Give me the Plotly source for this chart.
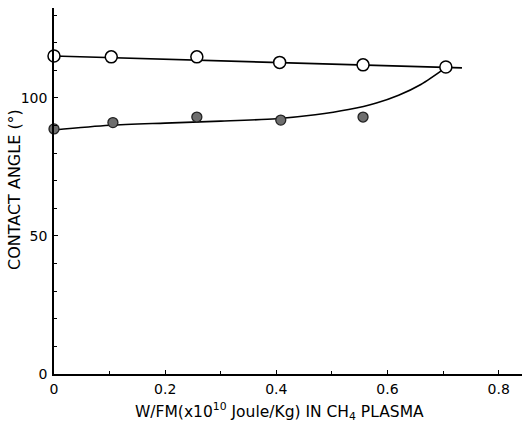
import plotly.graph_objects as go

# Measured data
x_open = [0.0, 0.103, 0.257, 0.406, 0.556, 0.705]
y_open = [115.2, 114.9, 114.9, 112.9, 112.0, 111.2]

x_fill = [0.0, 0.106, 0.257, 0.408, 0.556]
y_fill = [88.8, 91.1, 93.1, 92.0, 93.1]

# Fitted curves
fit_open_x = [0.0, 0.734]
fit_open_y = [115.2, 110.9]

fit_fill_x = [0.0, 0.1, 0.2, 0.3, 0.4, 0.47, 0.53, 0.58, 0.62, 0.66, 0.705]
fit_fill_y = [88.4, 90.1, 90.9, 91.6, 92.5, 93.9, 95.8, 98.2, 101.0, 104.9, 111.0]

x_ticks = [0, 0.2, 0.4, 0.6, 0.8]
x_tick_labels = ["0", "0.2", "0.4", "0.6", "0.8"]
y_ticks = [0, 50, 100]
y_tick_labels = ["0", "50", "100"]

FONT = "DejaVu Sans, Verdana, sans-serif"

fig = go.Figure()
fig.add_trace(go.Scatter(x=fit_open_x, y=fit_open_y, mode="lines",
                         line=dict(color="black", width=1.6), showlegend=False))
fig.add_trace(go.Scatter(x=fit_fill_x, y=fit_fill_y, mode="lines",
                         line=dict(color="black", width=1.6, shape="spline", smoothing=0.8),
                         showlegend=False))
fig.add_trace(go.Scatter(x=x_open, y=y_open, mode="markers",
                         marker=dict(size=12, color="white", line=dict(color="black", width=1.5)),
                         showlegend=False, cliponaxis=False))
fig.add_trace(go.Scatter(x=x_fill, y=y_fill, mode="markers",
                         marker=dict(size=10, color="#6e6e6e", line=dict(color="#222222", width=1.3)),
                         showlegend=False, cliponaxis=False))

fig.update_layout(
    width=522, height=425,
    margin=dict(l=54, r=0, t=8, b=51),
    paper_bgcolor="white", plot_bgcolor="white",
    font=dict(family=FONT, size=13, color="black"),
    xaxis=dict(range=[0, 0.842], tickvals=x_ticks, ticktext=x_tick_labels,
               showgrid=False, zeroline=False, showline=True, linecolor="black", linewidth=1.6,
               ticks="inside", ticklen=4, tickcolor="black", tickwidth=1,
               minor=dict(dtick=0.1, tick0=0, ticks="inside", ticklen=3, tickcolor="black", showgrid=False),
               tickfont=dict(size=14, family=FONT), ticklabelstandoff=1),
    yaxis=dict(range=[0, 132.6], tickvals=y_ticks, ticktext=y_tick_labels,
               showgrid=False, zeroline=False, showline=True, linecolor="black", linewidth=1.6,
               ticks="inside", ticklen=4, tickcolor="black", tickwidth=1,
               minor=dict(dtick=10, tick0=0, ticks="inside", ticklen=3, tickcolor="black", showgrid=False),
               tickfont=dict(size=14, family=FONT), ticklabelstandoff=2),
)

fig.add_annotation(text="W/FM(x10<sup>10</sup> Joule/Kg) IN CH<sub>4</sub> PLASMA",
                   xref="paper", yref="paper", x=(279 - 54) / 468, y=-(411 - 374) / 366,
                   xanchor="center", yanchor="middle", showarrow=False,
                   font=dict(size=15.5, family=FONT))
fig.add_annotation(text="CONTACT ANGLE (°)", xref="paper", yref="paper",
                   x=-(54 - 14) / 468, y=(374 - 190) / 366, textangle=-90,
                   xanchor="center", yanchor="middle", showarrow=False,
                   font=dict(size=16, family=FONT))

fig.write_html("out.html")
